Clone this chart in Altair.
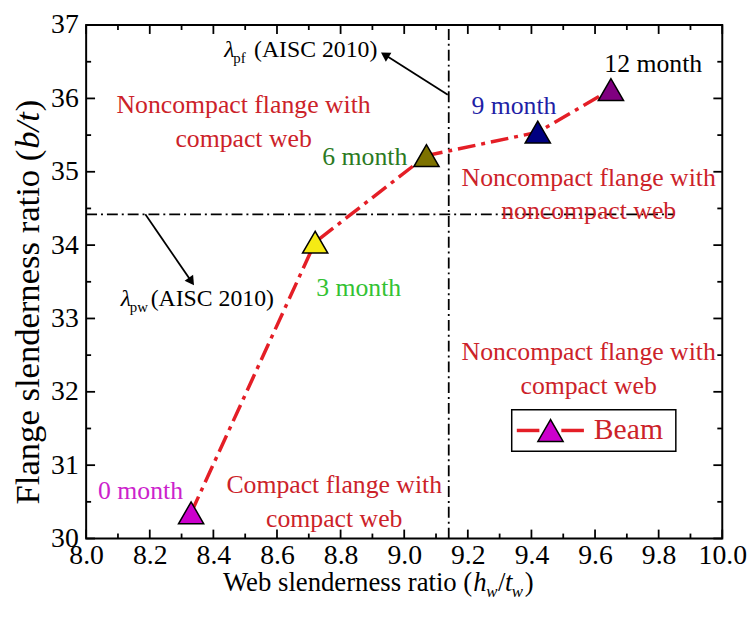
import altair as alt
import pandas as pd

SERIF = "Times New Roman, Liberation Serif, DejaVu Serif, serif"

# ---------------- data ----------------
months = ["0 month", "3 month", "6 month", "9 month", "12 month"]
web_ratio = [8.33, 8.72, 9.07, 9.42, 9.65]
flange_ratio = [30.35, 34.04, 35.22, 35.54, 36.12]
marker_colors = ["#cc00cc", "#f5ea14", "#7d7200", "#000080", "#800080"]
label_colors = ["#cc22cc", "#33c233", "#2b7a22", "#1f1fa6", "#000000"]
label_x = [8.171, 8.857, 8.876, 9.345, 9.783]
label_y = [30.65, 33.42, 35.20, 35.89, 36.47]

lambda_pf = 9.14     # vertical limit (web)
lambda_pw = 34.42    # horizontal limit (flange)
hline_x = [8.0, 9.85]
vline_y = [30.0, 37.0]

region_text = ["Noncompact flange with\ncompact web",
               "Noncompact flange with\nnoncompact web",
               "Noncompact flange with\ncompact web",
               "Compact flange with\ncompact web"]
region_x = [8.495, 9.58, 9.58, 8.78]
region_y = [35.91, 34.92, 32.54, 30.73]

x_major = [8.0, 8.2, 8.4, 8.6, 8.8, 9.0, 9.2, 9.4, 9.6, 9.8, 10.0]
x_minor = [8.1, 8.3, 8.5, 8.7, 8.9, 9.1, 9.3, 9.5, 9.7, 9.9]
y_major = [30, 31, 32, 33, 34, 35, 36, 37]
y_minor = [30.5, 31.5, 32.5, 33.5, 34.5, 35.5, 36.5]

# arrows: start on limit line -> head
arrow_x = [9.137, 8.186]
arrow_y = [36.05, 34.42]
arrow_hx = [8.939, 8.331]
arrow_hy = [36.594, 33.504]
arrow_angle = [302, 145]

# lambda labels anchors
lam_x = [8.450, 8.125]
lam_y = [36.662, 33.27]
lam_sub = ["pf", "pw"]

# legend
leg_box = dict(x=9.338, x2=9.854, y=31.19, y2=31.757)
leg_y = 31.473
leg_seg_x = [9.354, 9.494]
leg_seg_x2 = [9.425, 9.565]
leg_tri_x = 9.460
leg_text_x = 9.596

RED_LINE = "#e41e26"
RED_TEXT = "#cc2229"
W, H = 643, 519
MAJ, MIN = 9, 5

xs = alt.Scale(domain=[8, 10], nice=False, zero=False)
ys = alt.Scale(domain=[30, 37], nice=False, zero=False)


def X(field, axis=None):
    return alt.X(field, type="quantitative", scale=xs, axis=axis)


def Y(field, axis=None):
    return alt.Y(field, type="quantitative", scale=ys, axis=axis)


pts = pd.DataFrame({"month": months, "x": web_ratio, "y": flange_ratio,
                    "fill": marker_colors, "lx": label_x, "ly": label_y,
                    "lc": label_colors})

# ---------- main axes (labels only) ----------
main_x = alt.Axis(orient="bottom", values=x_major, format=".1f", title=None,
                  ticks=False, domain=False, grid=False, labelFont=SERIF,
                  labelFontSize=28, labelColor="black", labelPadding=3,
                  labelFlush=False, labelOverlap=False, labelBound=False)
main_y = alt.Axis(orient="left", values=y_major, format="d", title=None,
                  ticks=False, domain=False, grid=False, labelFont=SERIF,
                  labelFontSize=28, labelColor="black", labelPadding=8,
                  labelFlush=False, labelOverlap=False, labelBound=False)
axes_layer = alt.Chart(pd.DataFrame({"x": [9.0], "y": [33.0]})).mark_point(opacity=0).encode(
    X("x", main_x), Y("y", main_y))


# ---------- inward ticks on all four sides ----------
def xticks(vals, length):
    d = pd.DataFrame({"x": vals})
    bottom = alt.Chart(d).mark_rule(color="black", strokeWidth=1.8).encode(
        X("x"), y=alt.value(H), y2=alt.value(H - length))
    top = alt.Chart(d).mark_rule(color="black", strokeWidth=1.8).encode(
        X("x"), y=alt.value(0), y2=alt.value(length))
    return [bottom, top]


def yticks(vals, length):
    d = pd.DataFrame({"y": vals})
    left = alt.Chart(d).mark_rule(color="black", strokeWidth=1.8).encode(
        Y("y"), x=alt.value(0), x2=alt.value(length))
    right = alt.Chart(d).mark_rule(color="black", strokeWidth=1.8).encode(
        Y("y"), x=alt.value(W), x2=alt.value(W - length))
    return [left, right]


tick_layers = xticks(x_major, MAJ) + xticks(x_minor, MIN) + yticks(y_major, MAJ) + yticks(y_minor, MIN)

# ---------- limit lines ----------
vline = alt.Chart(pd.DataFrame({"x": [lambda_pf], "y": [vline_y[0]], "y2": [vline_y[1]]})).mark_rule(
    color="black", strokeWidth=1.8, strokeDash=[11, 4, 2, 4]).encode(X("x"), Y("y"), y2="y2")
hline = alt.Chart(pd.DataFrame({"y": [lambda_pw], "x": [hline_x[0]], "x2": [hline_x[1]]})).mark_rule(
    color="black", strokeWidth=1.8, strokeDash=[11, 4, 2, 4]).encode(X("x"), Y("y"), x2="x2")

# ---------- data line & markers ----------
line = alt.Chart(pts).mark_line(color=RED_LINE, strokeWidth=3.5,
                                strokeDash=[18, 6, 4, 6]).encode(X("x"), Y("y"), order="x:Q")
markers = alt.Chart(pts).mark_point(shape="triangle-up", filled=True, size=650,
                                    stroke="black", strokeWidth=1.5, opacity=1).encode(
    X("x"), Y("y"), fill=alt.Fill("fill:N", scale=None))
month_labels = alt.Chart(pts).mark_text(font=SERIF, fontSize=26, baseline="middle",
                                        align="center").encode(
    X("lx"), Y("ly"), text="month:N", color=alt.Color("lc:N", scale=None))

regions = alt.Chart(pd.DataFrame({"t": region_text, "x": region_x, "y": region_y})).mark_text(
    font=SERIF, fontSize=26, color=RED_TEXT, align="center", baseline="middle",
    lineBreak="\n", lineHeight=34).encode(X("x"), Y("y"), text="t:N")

# ---------- arrows ----------
arr = pd.DataFrame({"x": arrow_x, "y": arrow_y, "hx": arrow_hx, "hy": arrow_hy, "a": arrow_angle})
arrow_lines = alt.Chart(arr).mark_rule(color="black", strokeWidth=1.8).encode(
    X("x"), Y("y"), x2="hx", y2="hy")
arrow_heads = alt.Chart(arr).mark_point(shape="triangle-up", filled=True, size=110,
                                        color="black", opacity=1).encode(
    X("hx"), Y("hy"), angle=alt.Angle("a:Q", scale=None))

# ---------- lambda labels ----------
lam = pd.DataFrame({"x": lam_x, "y": lam_y, "sub": lam_sub,
                    "l": ["λ", "λ"], "t": ["(AISC 2010)", "(AISC 2010)"]})
lam_sym = alt.Chart(lam).mark_text(font=SERIF, fontSize=24, fontStyle="italic", align="center",
                                   baseline="middle", color="black").encode(X("x"), Y("y"), text="l:N")
lam_subs = alt.Chart(lam).mark_text(font=SERIF, fontSize=15, align="left", baseline="middle",
                                    color="black", dx=4, dy=8).encode(X("x"), Y("y"), text="sub:N")
lam_txt = alt.Chart(lam).mark_text(font=SERIF, fontSize=24, align="left", baseline="middle",
                                   color="black", dx=25).encode(X("x"), Y("y"), text="t:N")

# ---------- axis titles (mixed styles) ----------
xt = pd.DataFrame({"x": [9.214], "y": [29.39]})


def xt_piece(txt, dx, dy=0, size=27, style="normal", align="left"):
    return alt.Chart(xt).mark_text(text=txt, font=SERIF, fontSize=size, fontStyle=style,
                                   align=align, baseline="middle", color="black",
                                   dx=dx, dy=dy).encode(X("x"), Y("y"))


x_title = [
    xt_piece("Web slenderness ratio (", 0, align="right"),
    xt_piece("h", 1, style="italic"),
    xt_piece("w", 14, dy=9, size=17, style="italic"),
    xt_piece("/", 26),
    xt_piece("t", 33, style="italic"),
    xt_piece("w", 40, dy=9, size=17, style="italic"),
    xt_piece(")", 53),
]

yt = pd.DataFrame({"x": [7.817], "y": [35.30]})


def yt_piece(txt, dx, style="normal", align="left"):
    return alt.Chart(yt).mark_text(text=txt, font=SERIF, fontSize=35, fontStyle=style,
                                   align=align, baseline="middle", color="black", angle=270,
                                   dx=dx).encode(X("x"), Y("y"))


y_title = [
    yt_piece("Flange slenderness ratio (", 0, align="right"),
    yt_piece("b/t", 1, style="italic"),
    yt_piece(")", 39),
]

# ---------- legend ----------
box = alt.Chart(pd.DataFrame([leg_box])).mark_rect(fill="white", stroke="black",
                                                   strokeWidth=1.5).encode(
    X("x"), Y("y"), x2="x2", y2="y2")
segs = alt.Chart(pd.DataFrame({"x": leg_seg_x, "x2": leg_seg_x2, "y": [leg_y, leg_y]})).mark_rule(
    color=RED_LINE, strokeWidth=3.5).encode(X("x"), Y("y"), x2="x2")
leg_tri = alt.Chart(pd.DataFrame({"x": [leg_tri_x], "y": [leg_y]})).mark_point(
    shape="triangle-up", filled=True, size=650, fill=marker_colors[0], stroke="black",
    strokeWidth=1.5, opacity=1).encode(X("x"), Y("y"))
leg_txt = alt.Chart(pd.DataFrame({"x": [leg_text_x], "y": [leg_y], "t": ["Beam"]})).mark_text(
    font=SERIF, fontSize=30, color=RED_TEXT, align="left", baseline="middle").encode(
    X("x"), Y("y"), text="t:N")

chart = alt.layer(
    axes_layer, *tick_layers, vline, hline, line, markers, month_labels, regions,
    arrow_lines, arrow_heads, lam_sym, lam_subs, lam_txt,
    *x_title, *y_title, box, segs, leg_tri, leg_txt
).resolve_axis(x="independent", y="independent").properties(
    width=W, height=H,
    autosize=alt.AutoSizeParams(type="none"),
    padding={"left": 79, "top": 14, "right": 25, "bottom": 68},
    background="white",
).configure_view(stroke="black", strokeWidth=2)

chart.save("out.html", embed_options={"renderer": "svg", "actions": False})
